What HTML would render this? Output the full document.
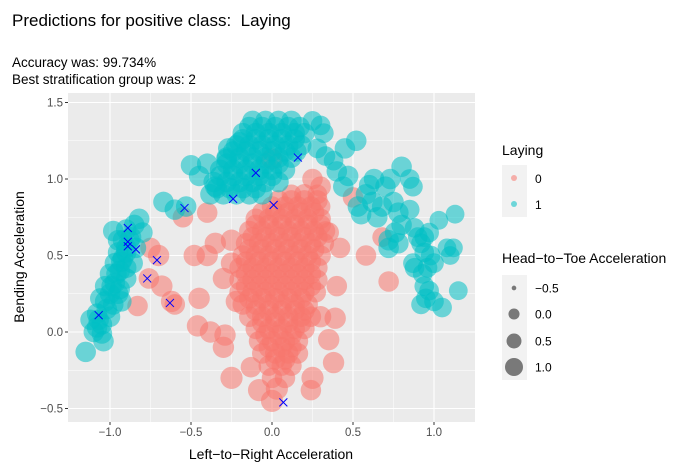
<!DOCTYPE html>
<html><head><meta charset="utf-8"><style>
body{margin:0;background:#fff;}
svg{display:block;font-family:"Liberation Sans",sans-serif;}
</style></head><body>
<svg id="chart" width="700" height="469">
<text x="12" y="26" font-size="17" fill="#000">Predictions for positive class:&#160; Laying</text>
<text x="12" y="67" font-size="13.5" fill="#000">Accuracy was: 99.734%</text>
<text x="12" y="84" font-size="13.5" fill="#000">Best stratification group was: 2</text>
<rect x="68" y="93" width="407" height="329" fill="#EBEBEB"/>
<g id="grid"></g>
<g id="clip-g"></g>
<g id="axes"></g>
<text x="271" y="459" font-size="14" text-anchor="middle" fill="#000">Left−to−Right Acceleration</text>
<text transform="translate(24,257) rotate(-90)" font-size="14" text-anchor="middle" fill="#000">Bending Acceleration</text>
<g>
<text x="502" y="155" font-size="14">Laying</text>
<rect x="502" y="165" width="25" height="26" fill="#F2F2F2"/>
<rect x="502" y="191" width="25" height="26" fill="#F2F2F2"/>
<circle cx="514" cy="178" r="3" fill="#F8766D" fill-opacity="0.55"/>
<circle cx="514" cy="204" r="3" fill="#00BFC4" fill-opacity="0.55"/>
<text x="535" y="183" font-size="12">0</text>
<text x="535" y="209" font-size="12">1</text>
</g>
<g id="size-legend">
<text x="502" y="263" font-size="14">Head−to−Toe Acceleration</text>
<rect x="502" y="275" width="25" height="105" fill="#F2F2F2"/>
</g>
</svg>
<script>
const xTicks=[-1.0,-0.5,0.0,0.5,1.0];
const xTickLabels=["−1.0","−0.5","0.0","0.5","1.0"];
const yTicks=[-0.5,0.0,0.5,1.0,1.5];
const yTickLabels=["−0.5","0.0","0.5","1.0","1.5"];
const sizeBreaks=[-0.5,0.0,0.5,1.0];
const sizeLabels=["−0.5","0.0","0.5","1.0"];
// red (class 0) points [x, y, headToToe]
const class0Points=[
[0.12,0.9,0.5],[0.2,0.9,0.6],[0.28,0.9,0.5],
[0,0.82,0.6],[0.08,0.82,0.6],[0.16,0.82,0.6],[0.24,0.82,0.6],[0.3,0.82,0.5],
[-0.1,0.74,0.6],[-0.02,0.74,0.6],[0.06,0.74,0.6],[0.14,0.74,0.6],[0.22,0.74,0.6],[0.3,0.74,0.6],
[-0.14,0.66,0.6],[-0.06,0.66,0.6],[0.02,0.66,0.6],[0.1,0.66,0.6],[0.18,0.66,0.6],[0.26,0.66,0.6],[0.33,0.66,0.5],
[-0.16,0.58,0.6],[-0.08,0.58,0.6],[0,0.58,0.6],[0.08,0.58,0.6],[0.16,0.58,0.6],[0.24,0.58,0.6],[0.32,0.58,0.6],
[-0.18,0.5,0.6],[-0.1,0.5,0.6],[-0.02,0.5,0.6],[0.06,0.5,0.6],[0.14,0.5,0.6],[0.22,0.5,0.6],[0.3,0.5,0.6],
[-0.2,0.42,0.6],[-0.12,0.42,0.6],[-0.04,0.42,0.6],[0.04,0.42,0.6],[0.12,0.42,0.6],[0.2,0.42,0.6],[0.28,0.42,0.6],
[-0.2,0.34,0.6],[-0.12,0.34,0.6],[-0.04,0.34,0.6],[0.04,0.34,0.6],[0.12,0.34,0.6],[0.2,0.34,0.6],[0.28,0.34,0.6],
[-0.2,0.26,0.6],[-0.12,0.26,0.6],[-0.04,0.26,0.6],[0.04,0.26,0.6],[0.12,0.26,0.6],[0.2,0.26,0.6],[0.27,0.26,0.6],
[-0.18,0.18,0.6],[-0.1,0.18,0.6],[-0.02,0.18,0.6],[0.06,0.18,0.6],[0.14,0.18,0.6],[0.22,0.18,0.6],
[-0.14,0.1,0.6],[-0.06,0.1,0.6],[0.02,0.1,0.6],[0.1,0.1,0.6],[0.18,0.1,0.6],[0.24,0.1,0.6],
[-0.1,0.02,0.6],[-0.02,0.02,0.6],[0.06,0.02,0.6],[0.14,0.02,0.6],[0.2,0.02,0.6],
[-0.08,-0.06,0.6],[0,-0.06,0.6],[0.08,-0.06,0.6],[0.16,-0.06,0.6],
[-0.06,-0.14,0.6],[0.02,-0.14,0.6],[0.1,-0.14,0.6],[0.16,-0.14,0.6],
[-0.02,-0.22,0.6],[0.06,-0.22,0.6],[0.12,-0.22,0.6],
[0,-0.3,0.6],[0.08,-0.3,0.6],
[0.04,0.86,0.6],[0.12,0.86,0.6],[0.2,0.86,0.6],[0.28,0.86,0.6],
[-0.06,0.78,0.6],[0.02,0.78,0.6],[0.1,0.78,0.6],[0.18,0.78,0.6],[0.26,0.78,0.6],
[-0.1,0.7,0.6],[-0.02,0.7,0.6],[0.06,0.7,0.6],[0.14,0.7,0.6],[0.22,0.7,0.6],[0.3,0.7,0.6],
[-0.12,0.62,0.6],[-0.04,0.62,0.6],[0.04,0.62,0.6],[0.12,0.62,0.6],[0.2,0.62,0.6],[0.28,0.62,0.6],
[-0.14,0.54,0.6],[-0.06,0.54,0.6],[0.02,0.54,0.6],[0.1,0.54,0.6],[0.18,0.54,0.6],[0.26,0.54,0.6],
[-0.16,0.46,0.6],[-0.08,0.46,0.6],[0,0.46,0.6],[0.08,0.46,0.6],[0.16,0.46,0.6],[0.24,0.46,0.6],
[-0.16,0.38,0.6],[-0.08,0.38,0.6],[0,0.38,0.6],[0.08,0.38,0.6],[0.16,0.38,0.6],[0.24,0.38,0.6],
[-0.16,0.3,0.6],[-0.08,0.3,0.6],[0,0.3,0.6],[0.08,0.3,0.6],[0.16,0.3,0.6],[0.24,0.3,0.6],
[-0.14,0.22,0.6],[-0.06,0.22,0.6],[0.02,0.22,0.6],[0.1,0.22,0.6],[0.18,0.22,0.6],
[-0.1,0.14,0.6],[-0.02,0.14,0.6],[0.06,0.14,0.6],[0.14,0.14,0.6],[0.2,0.14,0.6],
[-0.06,0.06,0.6],[0.02,0.06,0.6],[0.1,0.06,0.6],[0.18,0.06,0.6],
[-0.04,-0.02,0.6],[0.04,-0.02,0.6],[0.12,-0.02,0.6],
[-0.02,-0.1,0.6],[0.06,-0.1,0.6],[0.12,-0.1,0.6],
[0.02,-0.18,0.6],[0.08,-0.18,0.6],
[-0.35,0.58,0.7],[-0.4,0.5,0.7],[-0.45,0.22,0.7],[-0.38,0.0,0.7],[-0.3,-0.1,0.7],[-0.25,-0.3,0.8],[-0.08,-0.38,0.8],
[0.0,-0.45,0.8],[0.03,-0.37,0.8],[0.25,-0.3,0.8],[0.38,-0.2,0.7],[0.4,0.3,0.6],[0.42,0.55,0.6],[0.35,0.65,0.6],
[0.58,0.5,0.6],[0.72,0.33,0.6],[0.68,0.62,0.5],[0.5,0.88,0.6],[-0.25,0.6,0.7],[-0.3,0.35,0.7],[-0.48,0.5,0.7],
[-0.55,0.75,0.6],[-0.62,0.2,0.7],[-0.76,0.35,0.6],[-0.68,0.3,0.7],[-0.7,0.5,0.7],[-0.75,0.55,0.6],[-0.83,0.17,0.6],
[-0.4,0.78,0.6],[0.25,1.0,0.6],[0.3,0.95,0.6],[0.0,1.13,0.7],[0.35,-0.05,0.7],[-0.25,0.45,0.7],[-0.22,0.2,0.7],[0.3,0.1,0.7],
[-0.29,-0.02,0.7],[-0.46,0.04,0.7],[-0.6,0.18,0.6],[0.39,0.09,0.7],[0.24,-0.38,0.6],[-0.13,-0.23,0.6]
];
// teal (class 1) points [x, y, headToToe]
const class1Points=[
[-1.1,0.0,0.6],[-1.05,0.05,0.6],[-1.08,0.12,0.6],[-1.02,0.15,0.6],[-1.06,0.22,0.6],[-1.0,0.25,0.6],[-1.03,0.3,0.6],
[-0.97,0.32,0.6],[-1.0,0.38,0.6],[-0.94,0.4,0.6],[-0.97,0.45,0.6],[-0.92,0.48,0.6],[-0.95,0.52,0.6],[-0.9,0.55,0.6],
[-0.92,0.6,0.6],[-0.87,0.62,0.6],[-0.9,0.67,0.6],[-0.85,0.7,0.6],[-0.84,0.55,0.6],[-0.86,0.45,0.6],[-0.9,0.35,0.6],
[-0.94,0.28,0.6],[-0.98,0.18,0.6],[-1.12,0.08,0.6],[-1.15,-0.13,0.6],[-1.04,-0.06,0.6],[-0.95,0.6,0.6],[-0.8,0.65,0.6],
[-0.82,0.74,0.6],[-0.98,0.66,0.6],[-1.05,-0.01,0.6],[-1.0,0.1,0.6],[-0.93,0.2,0.6],
[-1.07,0.08,0.6],[-1.03,0.2,0.6],[-0.99,0.3,0.6],[-0.96,0.38,0.6],[-0.93,0.46,0.6],[-0.9,0.52,0.6],[-0.88,0.6,0.6],
[-1.08,0.03,0.6],[-0.95,0.25,0.6],[-0.9,0.42,0.6],
[-0.12,1.38,0.6],[-0.04,1.38,0.6],[0.04,1.38,0.6],[0.12,1.38,0.6],
[-0.18,1.3,0.6],[-0.1,1.3,0.6],[-0.02,1.3,0.6],[0.06,1.3,0.6],[0.14,1.3,0.6],[0.2,1.3,0.6],
[-0.22,1.22,0.6],[-0.14,1.22,0.6],[-0.06,1.22,0.6],[0.02,1.22,0.6],[0.1,1.22,0.6],[0.18,1.22,0.6],
[-0.28,1.14,0.6],[-0.2,1.14,0.6],[-0.12,1.14,0.6],[-0.04,1.14,0.6],[0.04,1.14,0.6],[0.12,1.14,0.6],
[-0.32,1.06,0.6],[-0.24,1.06,0.6],[-0.16,1.06,0.6],[-0.08,1.06,0.6],[0.0,1.06,0.6],[0.08,1.06,0.6],
[-0.36,0.98,0.6],[-0.28,0.98,0.6],[-0.2,0.98,0.6],[-0.12,0.98,0.6],[-0.04,0.98,0.6],[0.04,0.98,0.6],
[-0.38,0.9,0.6],[-0.3,0.9,0.6],[-0.22,0.9,0.6],[-0.14,0.9,0.6],[-0.06,0.9,0.6],
[-0.14,1.34,0.6],[-0.06,1.34,0.6],[0.02,1.34,0.6],[0.1,1.34,0.6],[0.17,1.34,0.6],
[-0.18,1.26,0.6],[-0.1,1.26,0.6],[-0.02,1.26,0.6],[0.06,1.26,0.6],[0.14,1.26,0.6],
[-0.24,1.18,0.6],[-0.16,1.18,0.6],[-0.08,1.18,0.6],[0,1.18,0.6],[0.08,1.18,0.6],[0.15,1.18,0.6],
[-0.28,1.1,0.6],[-0.2,1.1,0.6],[-0.12,1.1,0.6],[-0.04,1.1,0.6],[0.04,1.1,0.6],
[-0.32,1.02,0.6],[-0.24,1.02,0.6],[-0.16,1.02,0.6],[-0.08,1.02,0.6],[0,1.02,0.6],
[-0.34,0.94,0.6],[-0.26,0.94,0.6],[-0.18,0.94,0.6],[-0.1,0.94,0.6],
[-0.4,1.1,0.6],[-0.45,1.02,0.6],[-0.53,0.82,0.6],[-0.6,0.8,0.6],[-0.67,0.85,0.6],[-0.35,0.95,0.6],[0.25,1.38,0.5],
[0.3,1.35,0.5],[0.32,1.3,0.5],[0.28,1.2,0.5],[0.33,1.15,0.5],[0.38,1.12,0.5],[0.45,1.2,0.6],[0.52,1.25,0.6],
[0.4,1.05,0.6],[0.47,1.02,0.6],[0.44,0.95,0.6],[-0.27,1.2,0.6],[-0.28,1.13,0.6],[-0.5,1.09,0.6],[-0.2,1.24,0.6],
[0.53,0.82,0.6],[0.55,0.77,0.6],[0.58,0.9,0.6],[0.62,0.85,0.6],[0.65,0.75,0.6],[0.68,0.82,0.6],[0.7,0.95,0.6],
[0.73,1.0,0.6],[0.75,0.85,0.6],[0.78,0.78,0.6],[0.8,0.7,0.6],[0.76,0.65,0.6],[0.72,0.6,0.6],[0.72,0.55,0.6],
[0.8,1.08,0.6],[0.85,1.0,0.5],[0.87,0.95,0.5],[0.85,0.8,0.5],[0.88,0.68,0.5],[0.9,0.62,0.5],[0.94,0.62,0.5],
[0.97,0.65,0.5],[0.92,0.58,0.5],[0.94,0.52,0.5],[0.98,0.5,0.5],[1.0,0.45,0.5],[0.96,0.42,0.5],[0.93,0.38,0.5],
[0.88,0.42,0.5],[0.87,0.45,0.5],[0.94,0.3,0.5],[0.97,0.27,0.5],[0.95,0.22,0.5],[0.92,0.18,0.5],[1.0,0.2,0.5],
[1.05,0.16,0.5],[1.1,0.5,0.4],[1.08,0.55,0.4],[1.12,0.55,0.4],[1.03,0.73,0.4],[1.13,0.77,0.4],[1.15,0.27,0.4],
[0.63,1.0,0.6],[0.6,0.96,0.6],[0.78,0.58,0.6]
];
const crossX=[-1.07,-0.89,-0.89,-0.89,-0.84,-0.77,-0.71,-0.63,-0.54,-0.24,-0.1,0.01,0.16,0.07];
const crossY=[0.11,0.68,0.59,0.56,0.54,0.35,0.47,0.19,0.81,0.87,1.04,0.83,1.14,-0.46];

const NS="http://www.w3.org/2000/svg";
const PL=68,PR=475,PT=93,PB=422;
function sx(v){return 272+v*162;}
function sy(v){return 332-v*153;}
function sr(s){return Math.sqrt(Math.max(4,34+56*s));}
function pr(s){return sr(s)*1.25;}
function mk(tag,attrs,parent){const e=document.createElementNS(NS,tag);for(const k in attrs)e.setAttribute(k,attrs[k]);parent.appendChild(e);return e;}

const grid=document.getElementById('grid');
const minorX=[-0.75,-0.25,0.25,0.75],minorY=[-0.25,0.25,0.75,1.25];
minorX.forEach(v=>{const l=mk('line',{x1:sx(v),x2:sx(v),y1:PT,y2:PB,stroke:'#fff','stroke-width':0.5},grid);

});
minorY.forEach(v=>{const l=mk('line',{x1:PL,x2:PR,y1:sy(v),y2:sy(v),stroke:'#fff','stroke-width':0.5},grid);

});
const axes=document.getElementById('axes');
xTicks.forEach((v,i)=>{const l=mk('line',{x1:sx(v),x2:sx(v),y1:PT,y2:PB,stroke:'#fff','stroke-width':1.1},grid);


const t=mk('line',{x1:sx(v),x2:sx(v),y1:PB,y2:PB+3,stroke:'#333','stroke-width':1},axes);


const tx=mk('text',{x:sx(v),y:PB+14,'font-size':11.5,'text-anchor':'middle',fill:'#4D4D4D'},axes);tx.textContent=xTickLabels[i];

});
yTicks.forEach((v,i)=>{const l=mk('line',{x1:PL,x2:PR,y1:sy(v),y2:sy(v),stroke:'#fff','stroke-width':1.1},grid);


const t=mk('line',{x1:PL-3,x2:PL,y1:sy(v),y2:sy(v),stroke:'#333','stroke-width':1},axes);


const tx=mk('text',{x:PL-5,y:sy(v)+4,'font-size':11.5,'text-anchor':'end',fill:'#4D4D4D'},axes);tx.textContent=yTickLabels[i];

});

const pg=document.getElementById('clip-g');
const cp=mk('clipPath',{id:'pc'},document.getElementById('chart'));mk('rect',{x:PL,y:PT,width:PR-PL,height:PB-PT},cp);
pg.setAttribute('clip-path','url(#pc)');
class0Points.forEach(p=>{const c=mk('circle',{cx:sx(p[0]),cy:sy(p[1]),r:pr(p[2]),fill:'#F8766D','fill-opacity':0.55},pg);

});
class1Points.forEach(p=>{const c=mk('circle',{cx:sx(p[0]),cy:sy(p[1]),r:pr(p[2]),fill:'#00BFC4','fill-opacity':0.55},pg);

});
crossX.forEach((x,i)=>{const X=sx(x),Y=sy(crossY[i]);
const p=mk('path',{d:`M${X-4} ${Y-4}L${X+4} ${Y+4}M${X-4} ${Y+4}L${X+4} ${Y-4}`,stroke:'#0000FF','stroke-width':1},pg);

});

const sl=document.getElementById('size-legend');
const keyY=[288,314,341,367];
sizeBreaks.forEach((s,i)=>{const c=mk('circle',{cx:514,cy:keyY[i],r:sr(s)*0.95,fill:'#000','fill-opacity':0.5},sl);


const t=mk('text',{x:535,y:keyY[i]+4.5,'font-size':12},sl);t.textContent=sizeLabels[i];

});
</script>
</body></html>
